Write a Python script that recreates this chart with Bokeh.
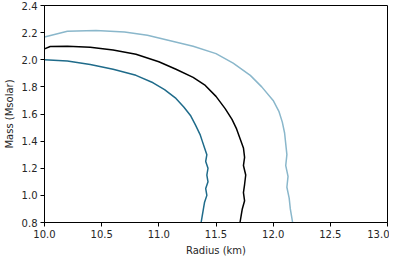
from bokeh.plotting import figure
from bokeh.models import FixedTicker, NumeralTickFormatter
from bokeh.embed import file_html
from bokeh.resources import INLINE

# Dark teal curve
r_dark = [10.00, 10.20, 10.40, 10.60, 10.80, 10.95, 11.05, 11.15, 11.22, 11.28, 11.32, 11.36,
          11.38, 11.40, 11.42, 11.41, 11.43, 11.42, 11.43, 11.41, 11.42, 11.40, 11.39, 11.38, 11.37]
m_dark = [2.000, 1.990, 1.965, 1.930, 1.885, 1.830, 1.780, 1.715, 1.650, 1.585, 1.520, 1.450,
          1.400, 1.350, 1.300, 1.250, 1.200, 1.150, 1.100, 1.050, 1.000, 0.950, 0.900, 0.850, 0.800]

# Black curve
r_black = [10.00, 10.05, 10.20, 10.40, 10.60, 10.80, 11.00, 11.15, 11.30, 11.40, 11.50, 11.58,
           11.64, 11.68, 11.71, 11.74, 11.75, 11.74, 11.76, 11.75, 11.74, 11.75, 11.73, 11.72, 11.71]
m_black = [2.080, 2.098, 2.100, 2.092, 2.072, 2.040, 1.985, 1.930, 1.870, 1.815, 1.730, 1.640,
           1.560, 1.490, 1.420, 1.350, 1.280, 1.220, 1.150, 1.080, 1.020, 0.960, 0.900, 0.850, 0.800]

# Light blue curve
r_light = [10.00, 10.20, 10.45, 10.70, 10.90, 11.10, 11.30, 11.50, 11.65, 11.80, 11.90, 12.00,
           12.05, 12.08, 12.10, 12.11, 12.12, 12.11, 12.13, 12.12, 12.14, 12.15, 12.16, 12.17]
m_light = [2.168, 2.210, 2.216, 2.205, 2.180, 2.140, 2.100, 2.045, 1.975, 1.885, 1.800, 1.700,
           1.620, 1.540, 1.460, 1.380, 1.300, 1.220, 1.140, 1.060, 0.980, 0.900, 0.850, 0.800]

x_ticks = [10.0, 10.5, 11.0, 11.5, 12.0, 12.5, 13.0]
y_ticks = [0.8, 1.0, 1.2, 1.4, 1.6, 1.8, 2.0, 2.2, 2.4]

p = figure(width=389, height=258, output_backend="svg", toolbar_location=None,
           x_range=(10.0, 13.0), y_range=(0.8, 2.4),
           min_border_left=36, min_border_right=2, min_border_top=5, min_border_bottom=30)

p.line(r_light, m_light, line_color="#8ab7cb", line_width=1.5)
p.line(r_black, m_black, line_color="#000000", line_width=1.5)
p.line(r_dark, m_dark, line_color="#1f6b8a", line_width=1.5)

p.xgrid.visible = False
p.ygrid.visible = False
p.outline_line_color = "#000000"
p.outline_line_width = 1

for ax, ticks in ((p.xaxis[0], x_ticks), (p.yaxis[0], y_ticks)):
    ax.ticker = FixedTicker(ticks=ticks)
    ax.formatter = NumeralTickFormatter(format="0.0")
    ax.major_label_text_font = "DejaVu Sans"
    ax.major_label_text_font_size = "10px"
    ax.major_label_text_color = "#262626"
    ax.axis_label_text_font = "DejaVu Sans"
    ax.axis_label_text_font_size = "10px"
    ax.axis_label_text_font_style = "normal"
    ax.axis_label_text_color = "#262626"
    ax.minor_tick_line_color = None
    ax.major_tick_out = 4
    ax.major_tick_in = 0
    ax.axis_line_color = "#000000"
    ax.major_tick_line_color = "#000000"

p.xaxis.axis_label = "Radius (km)"
p.yaxis.axis_label = "Mass (Msolar)"
p.xaxis.axis_label_standoff = 4
p.yaxis.axis_label_standoff = 4
p.xaxis.major_label_standoff = 3
p.yaxis.major_label_standoff = 3

open("out.html", "w").write(file_html(p, INLINE))
